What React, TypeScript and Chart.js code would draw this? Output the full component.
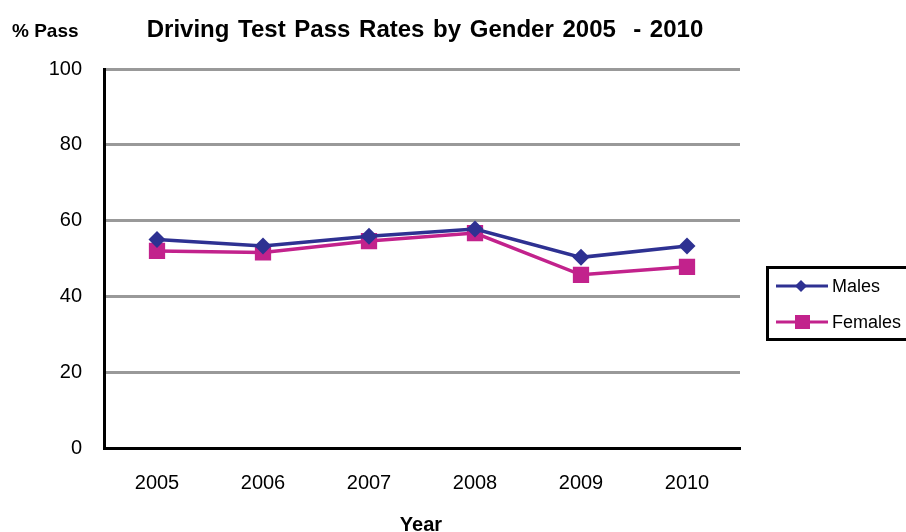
import React, { useEffect, useRef } from "react";
import { Chart, registerables } from "chart.js";

Chart.register(...registerables);

const years = ["2005", "2006", "2007", "2008", "2009", "2010"];
const males = [55.0, 53.3, 55.9, 57.8, 50.3, 53.3];
const females = [52.0, 51.6, 54.6, 56.7, 45.7, 47.8];
const yTicks = [0, 20, 40, 60, 80, 100];

const MALE_COLOR = "#2E3192";
const FEMALE_COLOR = "#C2228C";
const FONT = "'Liberation Sans', Arial, sans-serif";

const decorPlugin = {
  id: "decor",
  afterDraw(chart: any) {
    const ctx = chart.ctx;
    ctx.save();
    ctx.fillStyle = "#000";
    ctx.textBaseline = "alphabetic";
    ctx.font = `bold 24px ${FONT}`;
    ctx.textAlign = "center";
    try { (ctx as any).wordSpacing = "2px"; } catch (e) {}
    ctx.fillText("Driving Test Pass Rates by Gender 2005  - 2010", 425, 37);
    try { (ctx as any).wordSpacing = "0px"; } catch (e) {}
    ctx.font = `bold 19px ${FONT}`;
    ctx.textAlign = "left";
    ctx.fillText("% Pass", 12, 37);
    ctx.textAlign = "center";
    ctx.font = `bold 20px ${FONT}`;
    ctx.fillText("Year", 421, 531);

    // legend
    ctx.lineWidth = 3;
    ctx.strokeStyle = "#000";
    ctx.strokeRect(767.5, 267.5, 150, 72);
    const items = [
      { label: "Males", color: MALE_COLOR, style: "diamond", y: 286, base: 292 },
      { label: "Females", color: FEMALE_COLOR, style: "square", y: 322, base: 328 },
    ];
    items.forEach((it) => {
      ctx.strokeStyle = it.color;
      ctx.lineWidth = 3;
      ctx.beginPath();
      ctx.moveTo(776, it.y);
      ctx.lineTo(828, it.y);
      ctx.stroke();
      ctx.fillStyle = it.color;
      if (it.style === "diamond") {
        ctx.beginPath();
        ctx.moveTo(801, it.y - 6);
        ctx.lineTo(807, it.y);
        ctx.lineTo(801, it.y + 6);
        ctx.lineTo(795, it.y);
        ctx.closePath();
        ctx.fill();
      } else {
        ctx.fillRect(795, it.y - 7, 15, 14);
      }
      ctx.fillStyle = "#000";
      ctx.font = `18px ${FONT}`;
      ctx.textAlign = "left";
      ctx.fillText(it.label, 832, it.base);
    });
    ctx.restore();
  },
};

export default function App() {
  const ref = useRef<HTMLCanvasElement>(null);
  useEffect(() => {
    if (!ref.current) return;
    const chart = new Chart(ref.current, {
      type: "line",
      data: {
        labels: years,
        datasets: [
          {
            label: "Males",
            data: males,
            borderColor: MALE_COLOR,
            backgroundColor: MALE_COLOR,
            borderWidth: 3.5,
            pointStyle: "rectRot",
            pointRadius: 8.5,
            pointBorderWidth: 0,
            tension: 0,
          },
          {
            label: "Females",
            data: females,
            borderColor: FEMALE_COLOR,
            backgroundColor: FEMALE_COLOR,
            borderWidth: 3.5,
            pointStyle: "rect",
            pointRadius: 11.5,
            pointBorderWidth: 0,
            tension: 0,
          },
        ],
      },
      options: {
        animation: false,
        responsive: false,
        maintainAspectRatio: false,
        layout: { padding: { top: 69, right: 166, left: 0, bottom: 0 } },
        plugins: {
          legend: { display: false },
          title: { display: false },
          tooltip: { enabled: false },
        },
        scales: {
          x: {
            offset: true,
            grid: { display: false, drawTicks: false },
            border: { color: "#000", width: 3 },
            ticks: {
              color: "#000",
              font: { family: FONT, size: 20 },
              padding: 23,
              maxRotation: 0,
            },
            afterFit(scale: any) {
              scale.height = 84;
            },
          },
          y: {
            min: 0,
            max: 100,
            afterBuildTicks(scale: any) {
              scale.ticks = yTicks.map((v) => ({ value: v }));
            },
            grid: { color: "#999999", lineWidth: 3, drawTicks: false },
            border: { color: "#000", width: 3 },
            ticks: {
              color: "#000",
              font: { family: FONT, size: 20 },
              padding: 22,
            },
            afterFit(scale: any) {
              scale.width = 104;
            },
          },
        },
      },
      plugins: [decorPlugin],
    });
    return () => chart.destroy();
  }, []);
  return (
    <div style={{ position: "fixed", left: 0, top: 0, width: 906, height: 532, background: "#fff" }}>
      <canvas ref={ref} width={906} height={532} style={{ width: 906, height: 532 }} />
    </div>
  );
}
